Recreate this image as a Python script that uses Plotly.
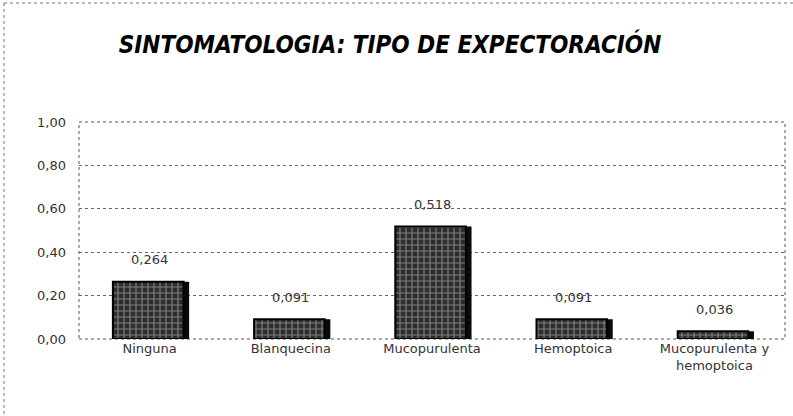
import plotly.graph_objects as go

categories = ["Ninguna", "Blanquecina", "Mucopurulenta", "Hemoptoica", "Mucopurulenta y<br>hemoptoica"]
values = [0.264, 0.091, 0.518, 0.091, 0.036]
tick_vals = [0.0, 0.2, 0.4, 0.6, 0.8, 1.0]
tick_text = ["0,00", "0,20", "0,40", "0,60", "0,80", "1,00"]
value_labels = ["0,264", "0,091", "0,518", "0,091", "0,036"]

W, H = 793, 416
L, R, T, B = 79, 8, 122, 77

bw = 0.5
fig = go.Figure()
# shadow
fig.add_trace(go.Bar(x=categories, y=values, width=bw, offset=-bw / 2 + 0.03,
                     marker=dict(color="#0a0a0a", line=dict(width=0)),
                     hoverinfo="skip", showlegend=False))
# main bars
fig.add_trace(go.Bar(x=categories, y=values, width=bw, offset=-bw / 2 - 0.01,
                     marker=dict(color="#2e2e2e",
                                 line=dict(color="#000000", width=2),
                                 pattern=dict(shape="+", fgcolor="#cfcfcf", size=6, solidity=0.35)),
                     showlegend=False))

for c, v, t in zip(categories, values, value_labels):
    fig.add_annotation(x=c, y=v, text=t, showarrow=False, yshift=22,
                       font=dict(family="DejaVu Sans", size=13, color="#333333"))

pw = W - L - R
ph = H - T - B
# outer dotted chart border (left and top)
fig.add_shape(type="line", xref="paper", yref="paper",
              x0=(4 - L) / pw, x1=(4 - L) / pw, y0=-(B - 2) / ph, y1=1 + (T - 3) / ph,
              line=dict(color="#777777", width=1, dash="dot"))
fig.add_shape(type="line", xref="paper", yref="paper",
              x0=(4 - L) / pw, x1=1 + R / pw, y0=1 + (T - 3) / ph, y1=1 + (T - 3) / ph,
              line=dict(color="#777777", width=1, dash="dot"))
# plot area border
fig.add_shape(type="rect", xref="paper", yref="paper", x0=0, x1=1, y0=0, y1=1,
              line=dict(color="#555555", width=1, dash="dot"), layer="below")

fig.update_layout(
    width=W, height=H,
    margin=dict(l=L, r=R, t=T, b=B),
    paper_bgcolor="white", plot_bgcolor="white",
    barmode="overlay",
    title=dict(text="<b><i>SINTOMATOLOGIA: TIPO DE EXPECTORACIÓN</i></b>",
               x=390 / W, xanchor="center", y=1 - 45 / H, yanchor="middle",
               font=dict(family="DejaVu Sans Condensed, DejaVu Sans", size=24, color="#000000")),
    xaxis=dict(showgrid=False, showline=False, ticks="",
               tickfont=dict(family="DejaVu Sans", size=13, color="#333333")),
    yaxis=dict(range=[0, 1.0], tickvals=tick_vals, ticktext=tick_text,
               showgrid=True, gridcolor="#666666", griddash="dot", gridwidth=1,
               zeroline=False, showline=False, ticks="", ticklabelstandoff=12,
               tickfont=dict(family="DejaVu Sans", size=13, color="#333333")),
)

fig.write_html("out.html", config={"displayModeBar": False},
               post_script="document.body.style.margin='0';")
